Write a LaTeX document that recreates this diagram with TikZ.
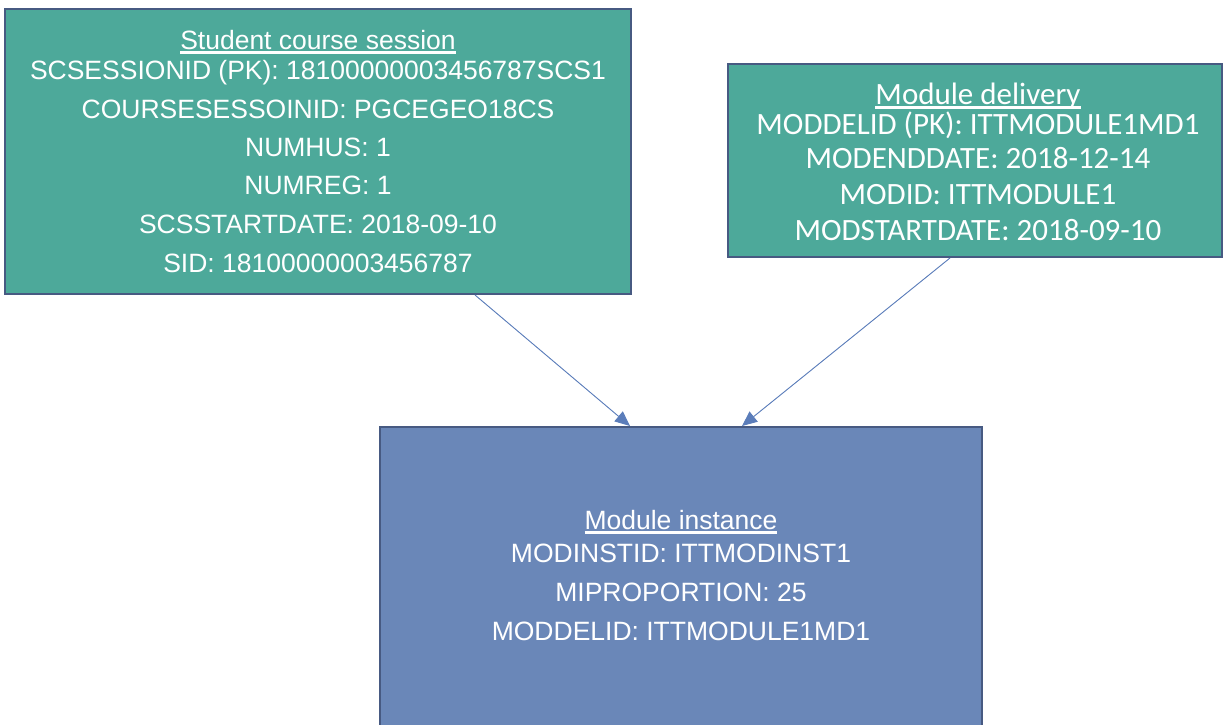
\documentclass[tikz,border=0pt]{standalone}
\usepackage{fontspec}
\setmainfont{Liberation Sans}
\newfontfamily\calfont{Carlito}
\usetikzlibrary{arrows.meta}

\definecolor{tealbox}{HTML}{4DA99A}
\definecolor{bluebox}{HTML}{6A87B8}
\definecolor{edgeblue}{HTML}{475A82}
\definecolor{linkblue}{HTML}{5B7DBA}
\newcommand{\ulabel}[1]{\setbox0\hbox{#1}\rlap{\rule[-4.6pt]{\wd0}{2.2pt}}\box0}

\begin{document}
\begin{tikzpicture}[x=1pt, y=-1pt,
    entity/.style={draw=edgeblue, line width=2pt, inner sep=0pt},
    field/.style={anchor=base, inner sep=0pt, text=white},
    link/.style={-{Triangle[length=15pt,width=13pt]}, draw=linkblue, fill=linkblue, line width=0.9pt}]
    \useasboundingbox (0,0) rectangle (1223,725);
    % entity boxes
    \node[entity, fill=tealbox, minimum width=626pt, minimum height=284.5pt] (scs) at (318,151.75) {};
    \node[entity, fill=tealbox, minimum width=494pt, minimum height=193pt] (mdl) at (975,160.5) {};
    \node[entity, fill=bluebox, minimum width=602pt, minimum height=300pt] (mins) at (681,577) {};
    % fields
    \foreach \yb/\txt [count=\i] in {49/{\ulabel{Student course session}},
        80/{SCSESSIONID (PK): 18100000003456787SCS1},
        118/{COURSESESSOINID: PGCEGEO18CS},
        156/{NUMHUS: 1},
        194/{NUMREG: 1},
        233/{SCSSTARTDATE: 2018-09-10},
        272/{SID: 18100000003456787}}
        \node[field, font=\fontsize{26.5}{30}\selectfont] (scs-\i) at (318,\yb) {\txt};
    \foreach \yb/\txt [count=\i] in {104/{\ulabel{Module delivery}},
        134/{MODDELID (PK): ITTMODULE1MD1},
        168/{MODENDDATE: 2018-12-14},
        204/{MODID: ITTMODULE1},
        240/{MODSTARTDATE: 2018-09-10}}
        \node[field, font=\calfont\fontsize{31}{34}\selectfont] (mdl-\i) at (978,\yb) {\txt};
    \foreach \yb/\txt [count=\i] in {529/{\ulabel{Module instance}},
        562/{MODINSTID: ITTMODINST1},
        601/{MIPROPORTION: 25},
        640/{MODDELID: ITTMODULE1MD1}}
        \node[field, font=\fontsize{26.5}{30}\selectfont] (mins-\i) at (681,\yb) {\txt};
    % links
    \draw[link] ([xshift=157pt]scs.south) -- ([xshift=-51pt]mins.north);
    \draw[link] ([xshift=-25pt]mdl.south) -- ([xshift=61pt]mins.north);
\end{tikzpicture}
\end{document}
